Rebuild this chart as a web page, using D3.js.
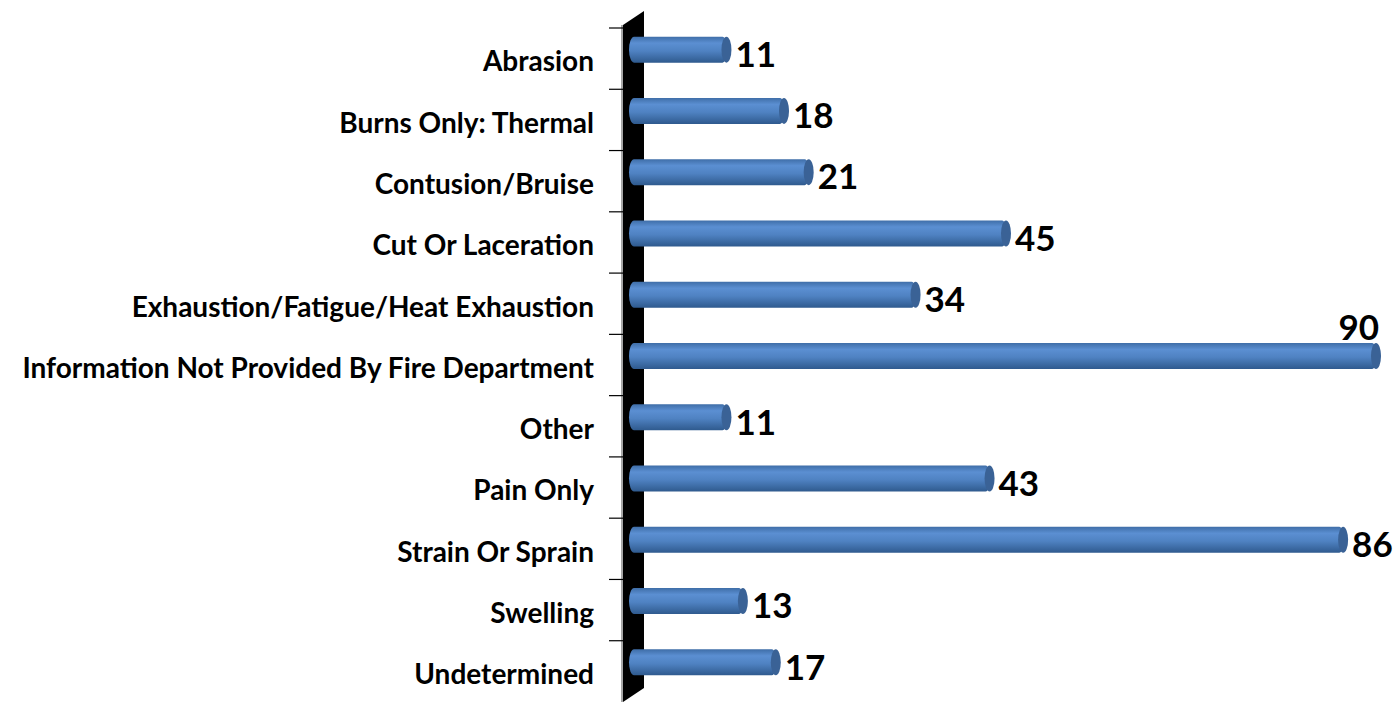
<!DOCTYPE html>
<html>
<head>
<meta charset="utf-8">
<script src="https://cdn.jsdelivr.net/npm/d3@7"></script>
<style>
  body { margin: 0; background: #fff; }
  svg { display: block; font-family: Lato, "Open Sans", sans-serif; }
</style>
</head>
<body>
<div id="chart"></div>
<script>
// Injury types and counts
const categories = [
    "Abrasion",
    "Burns Only: Thermal",
    "Contusion/Bruise",
    "Cut Or Laceration",
    "Exhaustion/Fatigue/Heat Exhaustion",
    "Information Not Provided By Fire Department",
    "Other",
    "Pain Only",
    "Strain Or Sprain",
    "Swelling",
    "Undetermined"
];
const counts = [11, 18, 21, 45, 34, 90, 11, 43, 86, 13, 17];

const width = 1393, height = 702;

const svg = d3.select("#chart").append("svg")
    .attr("width", width)
    .attr("height", height);

// gradient for the cylinder look
const defs = svg.append("defs");
const grad = defs.append("linearGradient")
    .attr("id", "barGrad")
    .attr("x1", 0).attr("y1", 0).attr("x2", 0).attr("y2", 1);
grad.append("stop").attr("offset", "0%").attr("stop-color", "#3f6ea8");
grad.append("stop").attr("offset", "25%").attr("stop-color", "#5b8fd2");
grad.append("stop").attr("offset", "55%").attr("stop-color", "#4f82c2");
grad.append("stop").attr("offset", "100%").attr("stop-color", "#2f5a8e");

const y = d3.scaleBand()
    .domain(categories)
    .range([28, 702]);

const x = d3.scaleLinear()
    .domain([0, 90])
    .range([637, 1377]);

// depth offset of the 3d wall
const dx = 21, dy = -14;
const wallX = 623;

// the black wall
svg.append("path")
    .attr("d", `M${wallX},${y.range()[0] - 3} L${wallX + dx},${y.range()[0] - 3 + dy} L${wallX + dx},${y.range()[1] + dy} L${wallX},${y.range()[1]} Z`)
    .attr("fill", "#000");
svg.append("line")
    .attr("x1", wallX - 1).attr("x2", wallX - 1)
    .attr("y1", y.range()[0] - 3).attr("y2", y.range()[1])
    .attr("stroke", "#888").attr("stroke-width", 1.5);

// ticks at band boundaries
const bounds = categories.map(c => y(c));
svg.selectAll(".tick")
    .data(bounds)
    .enter().append("line")
    .attr("x1", wallX - 14).attr("x2", wallX)
    .attr("y1", d => d).attr("y2", d => d)
    .attr("stroke", "#000").attr("stroke-width", 1.2);

// category labels
svg.selectAll(".cat")
    .data(categories)
    .enter().append("text")
    .attr("x", 594)
    .attr("y", d => y(d) + y.bandwidth() / 2 + 3)
    .attr("dy", "0.35em")
    .attr("text-anchor", "end")
    .style("font-size", "28px")
    .style("font-weight", "bold")
    .attr("fill", "#000")
    .text(d => d);

const data = categories.map((c, i) => ({ cat: c, value: counts[i] }));
const barH = 26;
const barMid = d => y(d.cat) + y.bandwidth() / 2 - 9;

const bars = svg.selectAll(".bar")
    .data(data)
    .enter().append("g")
    .attr("class", "bar");

bars.append("rect")
    .attr("x", x(0) - 8)
    .attr("y", d => barMid(d) - barH / 2)
    .attr("width", d => x(d.value) - x(0) + 8)
    .attr("height", barH)
    .attr("rx", 5).attr("ry", barH / 2)
    .attr("fill", "url(#barGrad)");

// end cap
bars.append("ellipse")
    .attr("cx", d => x(d.value) - 1)
    .attr("cy", d => barMid(d))
    .attr("rx", 5)
    .attr("ry", barH / 2)
    .attr("fill", "#3a6296");

// value labels
bars.append("text")
    .attr("x", d => d.value >= 90 ? x(d.value) + 2 : x(d.value) + 8)
    .attr("y", d => d.value >= 90 ? barMid(d) - barH / 2 - 3 : barMid(d) + 5)
    .attr("dy", d => d.value >= 90 ? 0 : "0.35em")
    .attr("text-anchor", d => d.value >= 90 ? "end" : "start")
    .style("font-size", "35px")
    .style("font-weight", "bold")
    .attr("fill", "#000")
    .text(d => d.value);
</script>
</body>
</html>
